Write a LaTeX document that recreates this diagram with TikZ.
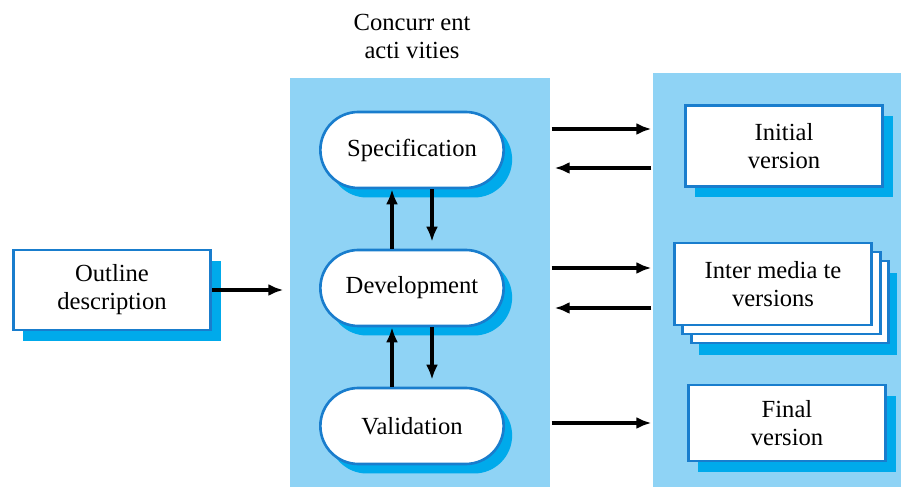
\documentclass[tikz,border=0pt]{standalone}
\usepackage{fontspec}
\setmainfont{Liberation Serif}
\usetikzlibrary{positioning,shapes.misc,shadows,arrows.meta}
\definecolor{panelblue}{RGB}{143,211,245}
\definecolor{boxblue}{RGB}{25,125,205}
\definecolor{shadowblue}{RGB}{0,170,235}

\begin{document}
\begin{tikzpicture}[-{Latex[length=0.3cm,width=0.24cm]}, node distance = 2.76cm, on grid, line width=1.9pt, font=\fontsize{14}{16}\selectfont,
panel/.style={rectangle, fill=panelblue, inner sep=0pt},
act/.style={rounded rectangle, draw=boxblue, fill=white, line width=1.5pt, minimum width=3.9cm, minimum height=1.52cm,
  general shadow={fill=shadowblue, shadow xshift=0.17cm, shadow yshift=-0.19cm}},
doc/.style={rectangle, draw=boxblue, fill=white, line width=1.5pt, minimum width=3.95cm, minimum height=1.6cm, align=center,
  general shadow={fill=shadowblue, shadow xshift=0.2cm, shadow yshift=-0.22cm}},
docstack/.style={rectangle, draw=boxblue, fill=white, line width=1.5pt, minimum width=3.95cm, minimum height=1.64cm, align=center,
  general shadow={fill=shadowblue, shadow xshift=0.5cm, shadow yshift=-0.6cm},
  general shadow={fill=white, draw=boxblue, shadow xshift=0.34cm, shadow yshift=-0.36cm},
  general shadow={fill=white, draw=boxblue, shadow xshift=0.17cm, shadow yshift=-0.18cm}}]
\useasboundingbox (0,0) rectangle (18.02,-9.74);
% background panels
\node[panel, minimum width=5.2cm, minimum height=8.18cm] (mid) at (8.4,-5.65) {};
\node[panel, minimum width=4.96cm, minimum height=8.28cm] (out) at (15.54,-5.6) {};
\node[align=center] (title) at (8.24,-0.73) {Concurr ent\\acti vities};
% activities
\node[act] (spec) at (8.24,-3.0) {Specification};
\node[act] (dev) [below = of spec] {Development};
\node[act] (val) [below = of dev] {Validation};
% documents
\node[doc] (outline) at (2.24,-5.8) {Outline\\description};
\node[doc, minimum height=1.62cm] (init) at (15.68,-2.92) {Initial\\version};
\node[docstack] (inter) at (15.46,-5.68) {Inter media te\\versions};
\node[doc, minimum height=1.52cm] (final) at (15.74,-8.46) {Final\\version};
\path (outline.east) edge[shorten >=0.1cm] (mid.west |- outline.east)
      ([xshift=-0.4cm]dev.north) edge ([xshift=-0.4cm]spec.south)
      ([xshift=0.4cm]spec.south) edge[shorten >=0.14cm] ([xshift=0.4cm]dev.north)
      ([xshift=-0.4cm]val.north) edge ([xshift=-0.4cm]dev.south)
      ([xshift=0.4cm]dev.south) edge[shorten >=0.14cm] ([xshift=0.4cm]val.north)
      ([yshift=0.34cm]init.west -| mid.east) edge ([yshift=0.34cm]init.west -| out.west)
      ([yshift=-0.44cm]init.west -| out.west) edge[shorten >=0.06cm] ([yshift=-0.44cm]init.west -| mid.east)
      ([yshift=0.32cm]inter.west -| mid.east) edge ([yshift=0.32cm]inter.west -| out.west)
      ([yshift=-0.48cm]inter.west -| out.west) edge[shorten >=0.06cm] ([yshift=-0.48cm]inter.west -| mid.east)
      (final.west -| mid.east) edge (final.west -| out.west);
\end{tikzpicture}
\end{document}
